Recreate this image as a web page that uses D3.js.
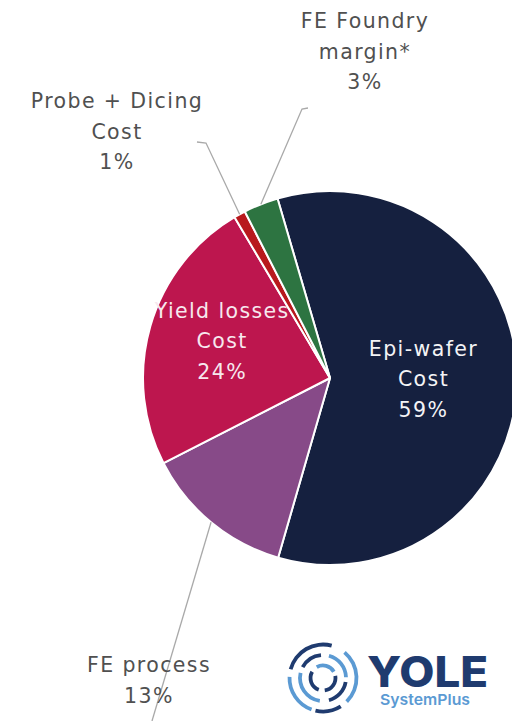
<!DOCTYPE html>
<html>
<head>
<meta charset="utf-8">
<script src="https://cdn.jsdelivr.net/npm/d3@7"></script>
<style>
  html, body { margin: 0; padding: 0; background: #ffffff; }
  svg { display: block; }
</style>
</head>
<body>
<svg id="chart" width="512" height="721"></svg>
<script>
// Cost breakdown shares (percent)
const categories = ["Epi-wafer Cost", "FE process", "Yield losses Cost", "Probe + Dicing Cost", "FE Foundry margin*"];
const shares = [59, 13, 24, 1, 3];
const nameLines = [["Epi-wafer", "Cost"], ["FE process"], ["Yield losses", "Cost"], ["Probe + Dicing", "Cost"], ["FE Foundry", "margin*"]];
const sliceColors = ["#15203f", "#874a88", "#bd164e", "#b8191d", "#2d7441"];

const svg = d3.select("#chart");
const cx = 330, cy = 378, R = 187;
const startDeg = -16.3;

const pie = d3.pie()
  .sort(null)
  .value(d => d)
  .startAngle(startDeg * Math.PI / 180)
  .endAngle(startDeg * Math.PI / 180 + 2 * Math.PI);

const arcs = pie(shares);
const arc = d3.arc().innerRadius(0).outerRadius(R);
const rimArc = d3.arc().innerRadius(R).outerRadius(R);

const g = svg.append("g").attr("transform", `translate(${cx},${cy})`);

g.selectAll("path.slice")
  .data(arcs)
  .join("path")
  .attr("class", "slice")
  .attr("d", arc)
  .attr("fill", (d, i) => sliceColors[i])
  .attr("stroke", "#ffffff")
  .attr("stroke-width", 2)
  .attr("stroke-linejoin", "round");

// Label placement: inside (radius factor) or outside (anchor + leader path)
const labelSpec = [
  { inside: true, rf: 0.5, dy: -22, color: "#f4f4f6" },
  { inside: false, x: 149, y: 672, leader: [[152, 721]] },
  { inside: true, rf: 0.6, dy: -29, color: "#f7e8ee" },
  { inside: false, x: 117, y: 108, leader: [[206, 143], [197, 142]] },
  { inside: false, x: 365, y: 28, leader: [[302, 109], [308, 108]] }
];

const lineH = 30.5;
const fontFamily = "'DejaVu Sans', 'Open Sans', sans-serif";

// Leader lines from the rim of each outside slice
arcs.forEach((d, i) => {
  const s = labelSpec[i];
  if (s.inside) return;
  const [rx, ry] = rimArc.centroid(d);
  const pts = [[cx + rx, cy + ry], ...s.leader];
  svg.append("path")
    .attr("d", d3.line()(pts))
    .attr("fill", "none")
    .attr("stroke", "#a9a9a9")
    .attr("stroke-width", 1.3);
});

// Text labels
arcs.forEach((d, i) => {
  const s = labelSpec[i];
  const lines = nameLines[i].concat([`${shares[i]}%`]);
  let x, y, color;
  if (s.inside) {
    const lab = d3.arc().innerRadius(R * s.rf).outerRadius(R * s.rf);
    const [lx, ly] = lab.centroid(d);
    x = cx + lx; y = cy + ly + s.dy; color = s.color;
  } else {
    x = s.x; y = s.y; color = "#505050";
  }
  const t = svg.append("text")
    .attr("x", x)
    .attr("y", y)
    .attr("text-anchor", "middle")
    .attr("font-family", fontFamily)
    .attr("font-size", 20.5)
    .attr("letter-spacing", 1.4)
    .attr("fill", color);
  lines.forEach((ln, k) => {
    t.append("tspan").attr("x", x).attr("dy", k === 0 ? 0 : lineH).text(ln);
  });
});

// Logo: concentric broken rings + wordmark
const logo = svg.append("g").attr("transform", "translate(323,678)");
const dark = "#1f3b6f", light = "#5b9ad3";
const rings = [
  { r: 33.5, segs: [[285, 375, dark], [200, 272, light], [148, 193, dark], [40, 135, light]] },
  { r: 23, segs: [[298, 355, dark], [15, 88, light], [100, 165, dark], [188, 283, light]] },
  { r: 12.5, segs: [[330, 420, light], [80, 172, dark], [200, 300, dark]] }
];
rings.forEach(ring => {
  ring.segs.forEach(([a0, a1, c]) => {
    logo.append("path")
      .attr("d", d3.arc()
        .innerRadius(ring.r - 1.9)
        .outerRadius(ring.r + 1.9)
        .startAngle(a0 * Math.PI / 180)
        .endAngle(a1 * Math.PI / 180)())
      .attr("fill", c);
  });
});

svg.append("text")
  .attr("x", 367).attr("y", 687)
  .attr("font-family", "Inter, 'Open Sans', sans-serif")
  .attr("font-weight", 800)
  .attr("font-size", 42)
  .attr("textLength", 121)
  .attr("lengthAdjust", "spacingAndGlyphs")
  .attr("fill", "#1f3b6f")
  .text("YOLE");

svg.append("text")
  .attr("x", 380).attr("y", 705)
  .attr("font-family", "Inter, 'Open Sans', sans-serif")
  .attr("font-weight", 600)
  .attr("font-size", 15)
  .attr("textLength", 90)
  .attr("lengthAdjust", "spacingAndGlyphs")
  .attr("fill", "#5b9ad3")
  .text("SystemPlus");
</script>
</body>
</html>
